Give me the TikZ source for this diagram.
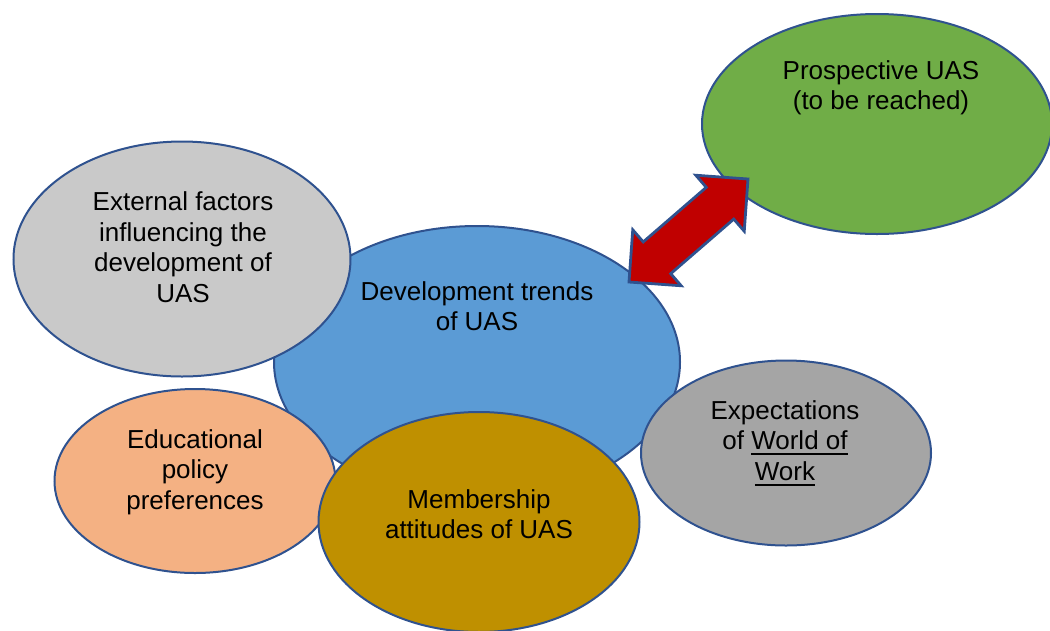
\documentclass[tikz,border=0pt]{standalone}
\usepackage{fontspec}
\setmainfont{Liberation Sans}
\usetikzlibrary{shapes.geometric,calc}
\definecolor{edgeblue}{HTML}{2F528F}
\definecolor{trendblue}{HTML}{5B9BD5}
\definecolor{factorgrey}{HTML}{C9C9C9}
\definecolor{policyorange}{HTML}{F4B183}
\definecolor{membergold}{HTML}{BF9000}
\definecolor{worldgrey}{HTML}{A5A5A5}
\definecolor{prospectgreen}{HTML}{70AD47}
\definecolor{arrowred}{HTML}{C00000}
\newcommand\worldline[1]{\setbox0\hbox{#1}\rlap{\rule[-5.5pt]{\wd0}{1.8pt}}\box0}
\begin{document}
\begin{tikzpicture}[x=1pt,y=-1pt,
        bubble/.style={ellipse,draw=edgeblue,line width=2pt,inner sep=0pt},
        caption/.style={align=center,inner sep=0pt,font=\fontsize{26}{30.5}\selectfont}]
    \useasboundingbox (0,0) rectangle (1050,630);
    % bubbles, back to front
    \node[bubble,fill=trendblue,minimum width=406pt,minimum height=272pt] (trends) at (477,362) {};
    \node[bubble,fill=factorgrey,minimum width=337pt,minimum height=235pt] (factors) at (182,259) {};
    \node[bubble,fill=policyorange,minimum width=281pt,minimum height=184pt] (policy) at (195,481) {};
    \node[bubble,fill=membergold,minimum width=321pt,minimum height=220pt] (members) at (479,522) {};
    \node[bubble,fill=worldgrey,minimum width=290pt,minimum height=185pt] (world) at (786,453) {};
    \node[bubble,fill=prospectgreen,minimum width=350pt,minimum height=220pt] (prospect) at (877,124) {};
    % texts
    \node[caption] (trendsT) at (477,306) {Development trends\\of UAS};
    \node[caption] (factorsT) at (183,247) {External factors\\influencing the\\development of\\UAS};
    \node[caption] (policyT) at (195,472) {Educational\\policy\\preferences};
    \node[caption] (membersT) at (479,514) {Membership\\attitudes of UAS};
    \node[caption] (worldT) at (785,443) {Expectations\\of \worldline{World of}\\\worldline{Work}};
    \node[caption] (prospectT) at (881,88) {Prospective UAS\\(to be reached)};
    % double block arrow
    \coordinate (tipA) at (629,282);
    \coordinate (tipB) at (748,179);
    \coordinate (baseA) at ($(tipA)!37pt!(tipB)$);
    \coordinate (baseB) at ($(tipB)!37pt!(tipA)$);
    \draw[fill=arrowred,draw=edgeblue,line width=2.8pt,line join=miter]
        (tipA) -- ($(baseA)!37pt!90:(tipB)$) -- ($(baseA)!21pt!90:(tipB)$)
        -- ($(baseB)!21pt!-90:(tipA)$) -- ($(baseB)!37pt!-90:(tipA)$)
        -- (tipB) -- ($(baseB)!37pt!90:(tipA)$) -- ($(baseB)!21pt!90:(tipA)$)
        -- ($(baseA)!21pt!-90:(tipB)$) -- ($(baseA)!37pt!-90:(tipB)$) -- cycle;
\end{tikzpicture}
\end{document}
